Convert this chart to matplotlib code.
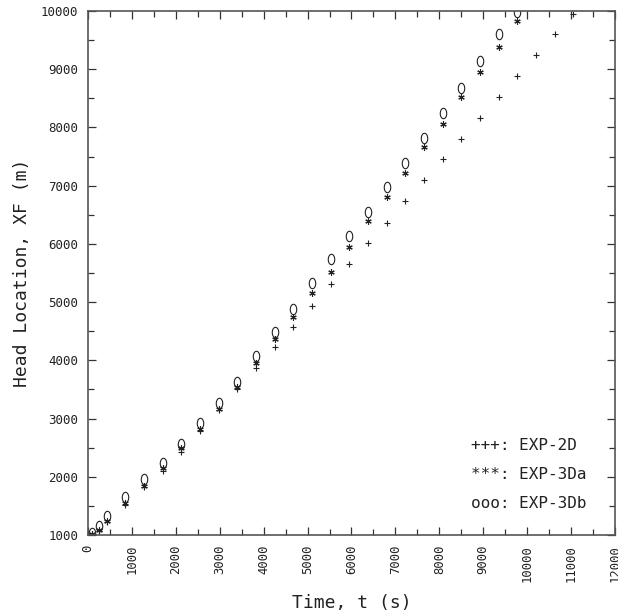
import numpy as np
import matplotlib.pyplot as plt
from matplotlib.path import Path
from matplotlib.ticker import MultipleLocator

# time (s) and head location (m)
t = [90, 250, 425, 850, 1275, 1700, 2125, 2550, 2975, 3400, 3825, 4250, 4675,
     5100, 5525, 5950, 6375, 6800, 7225, 7650, 8075, 8500, 8925, 9350, 9775]
t_2d = t + [10200, 10625, 11050]

xf_2d = [1010, 1070, 1230, 1515, 1820, 2105, 2430, 2790, 3150, 3510, 3865, 4225,
         4580, 4940, 5306, 5656, 6010, 6367, 6742, 7100, 7456, 7800, 8160, 8530,
         8880, 9240, 9600, 9950]
xf_3da = [1020, 1085, 1245, 1545, 1842, 2145, 2490, 2815, 3170, 3537, 3950, 4362,
          4740, 5150, 5524, 5950, 6395, 6810, 7226, 7672, 8060, 8531, 8948, 9390,
          9837]
xf_3db = [1040, 1150, 1326, 1660, 1957, 2243, 2563, 2919, 3274, 3620, 4076, 4493,
          4883, 5335, 5736, 6140, 6555, 6970, 7398, 7815, 8245, 8686, 9137, 9600,
          9990]

legend_lines = ['+++: EXP-2D', '***: EXP-3Da', 'ooo: EXP-3Db']

mono = 'DejaVu Sans Mono'
ink = '#222222'

# tall "0" shaped marker like the old plotter
ang = np.linspace(0, 2 * np.pi, 60)
oval = Path(np.column_stack([0.62 * np.cos(ang), np.sin(ang)]))

fig = plt.figure(figsize=(6.18, 6.13), dpi=100)
ax = fig.add_axes([0.1424, 0.1272, 0.8527, 0.8548])

ax.plot(t_2d, xf_2d, linestyle='none', marker='+', markersize=4.2,
        markeredgewidth=0.8, color=ink)
ax.plot(t, xf_3da, linestyle='none', marker=(6, 2, 0), markersize=4.6,
        markeredgewidth=0.8, color=ink)
ax.plot(t, xf_3db, linestyle='none', marker=oval, markersize=7.5,
        markeredgewidth=0.8, markerfacecolor='none', markeredgecolor=ink)

ax.set_xlim(0, 12000)
ax.set_ylim(1000, 10000)
ax.xaxis.set_major_locator(MultipleLocator(1000))
ax.xaxis.set_minor_locator(MultipleLocator(500))
ax.yaxis.set_major_locator(MultipleLocator(1000))
ax.yaxis.set_minor_locator(MultipleLocator(500))
ax.tick_params(which='both', direction='in', top=True, right=True,
               color='#333333', width=0.9)
ax.tick_params(which='major', length=6)
ax.tick_params(which='minor', length=4)
ax.tick_params(axis='y', which='major', pad=7)
ax.tick_params(axis='x', which='major', pad=7)

for lab in ax.get_xticklabels():
    lab.set_rotation(90)
    lab.set_fontfamily(mono)
    lab.set_fontsize(8.8)
    lab.set_color(ink)
for lab in ax.get_yticklabels():
    lab.set_fontfamily(mono)
    lab.set_fontsize(9)
    lab.set_color(ink)

for sp in ax.spines.values():
    sp.set_linewidth(1.2)
    sp.set_color('#555555')

ax.set_xlabel('Time, t (s)', fontfamily=mono, fontsize=13, color=ink, labelpad=9)
ax.set_ylabel('Head Location, XF (m)', fontfamily=mono, fontsize=13, color=ink,
              labelpad=7)

for i, line in enumerate(legend_lines):
    ax.text(0.727, 0.171 - i * 0.0555, line, transform=ax.transAxes,
            fontfamily=mono, fontsize=11.5, color=ink, va='center', ha='left')

fig.savefig('out.png', dpi=100)
